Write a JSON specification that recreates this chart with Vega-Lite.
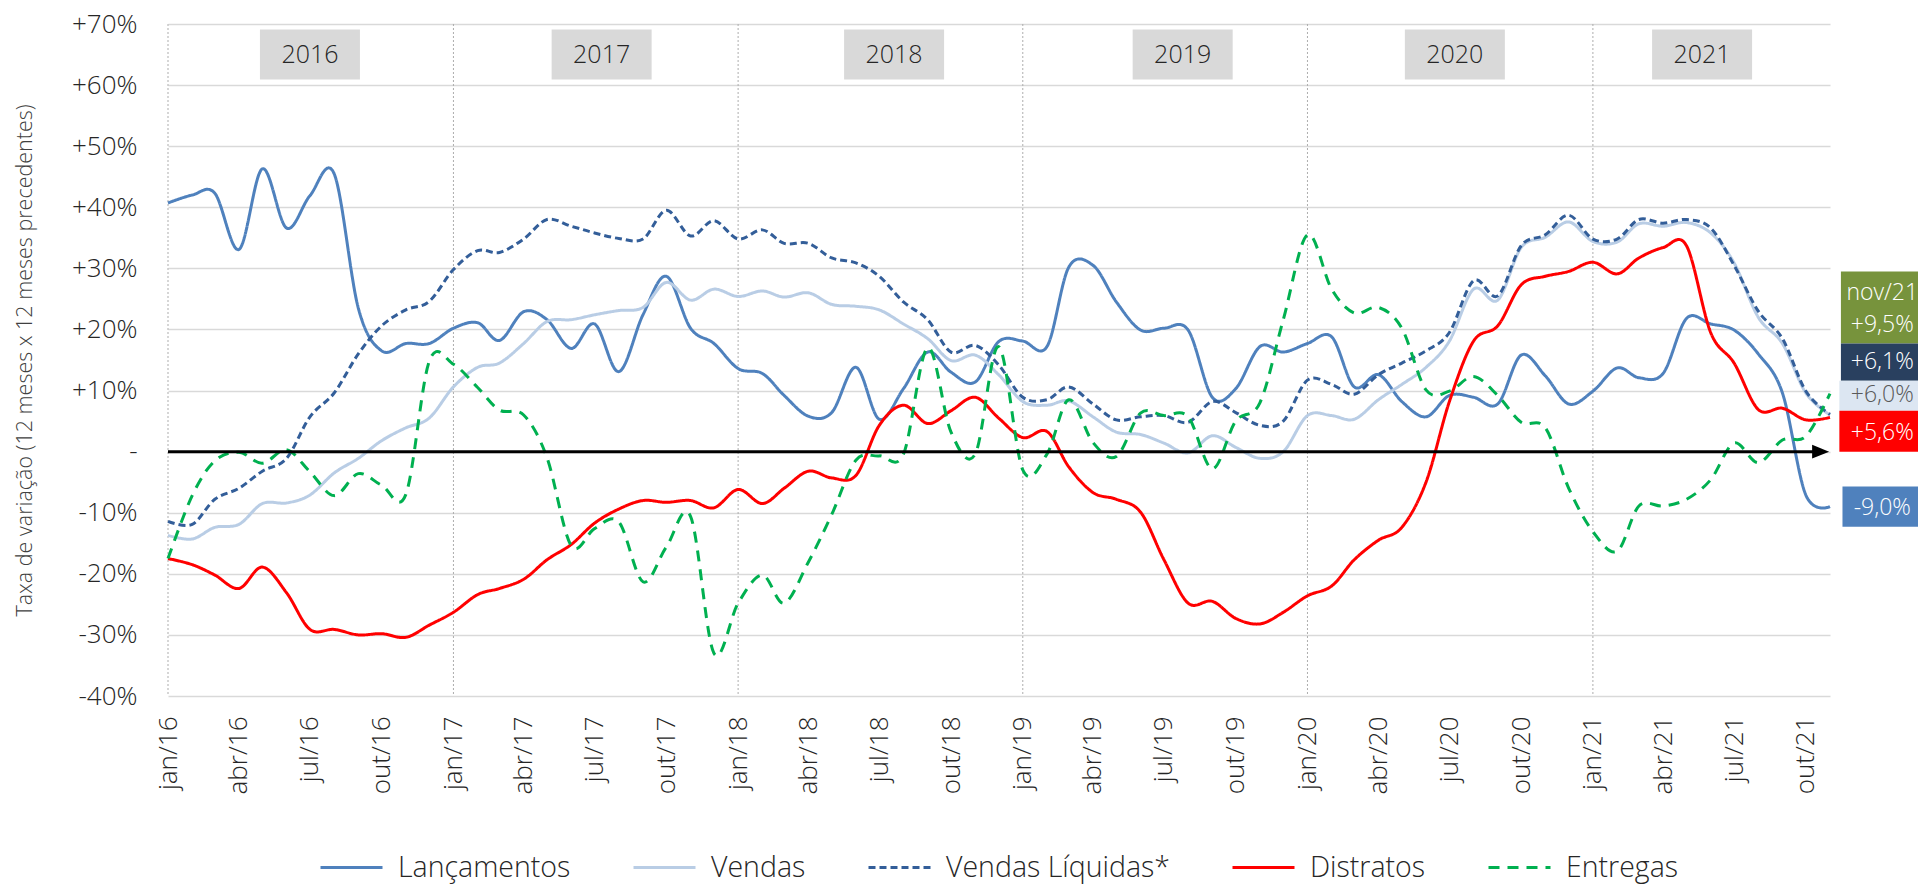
{
  "$schema": "https://vega.github.io/schema/vega-lite/v6.json",
  "width": 1662,
  "height": 672,
  "autosize": {"type": "none"},
  "padding": {"left": 168, "top": 24, "right": 88, "bottom": 188},
  "background": "white",
  "config": {
    "font": "Open Sans",
    "view": {"stroke": null},
    "legend": {"layout": {"bottom": {"anchor": "middle"}}}
  },
  "data": {"values": [{}]},
  "datasets": {
    "series": [
      {"mes": "2016-01-01", "Lançamentos": 40.7, "Vendas": -13.7, "Vendas Líquidas*": -11.4, "Distratos": -17.5, "Entregas": -17.5},
      {"mes": "2016-02-01", "Lançamentos": 42.0, "Vendas": -14.3, "Vendas Líquidas*": -11.9, "Distratos": -18.5, "Entregas": -7.2},
      {"mes": "2016-03-01", "Lançamentos": 42.3, "Vendas": -12.4, "Vendas Líquidas*": -7.8, "Distratos": -20.2, "Entregas": -1.5},
      {"mes": "2016-04-01", "Lançamentos": 33.1, "Vendas": -11.9, "Vendas Líquidas*": -6.0, "Distratos": -22.4, "Entregas": -0.1},
      {"mes": "2016-05-01", "Lançamentos": 46.3, "Vendas": -8.5, "Vendas Líquidas*": -3.2, "Distratos": -18.9, "Entregas": -1.9},
      {"mes": "2016-06-01", "Lançamentos": 36.6, "Vendas": -8.4, "Vendas Líquidas*": -1.1, "Distratos": -23.1, "Entregas": 0.3},
      {"mes": "2016-07-01", "Lançamentos": 41.9, "Vendas": -7.1, "Vendas Líquidas*": 5.7, "Distratos": -29.1, "Entregas": -3.3},
      {"mes": "2016-08-01", "Lançamentos": 45.5, "Vendas": -3.5, "Vendas Líquidas*": 9.6, "Distratos": -29.1, "Entregas": -7.2},
      {"mes": "2016-09-01", "Lançamentos": 23.5, "Vendas": -1.1, "Vendas Líquidas*": 16.0, "Distratos": -30.0, "Entregas": -3.6},
      {"mes": "2016-10-01", "Lançamentos": 16.5, "Vendas": 1.8, "Vendas Líquidas*": 20.6, "Distratos": -29.8, "Entregas": -5.5},
      {"mes": "2016-11-01", "Lançamentos": 17.7, "Vendas": 3.9, "Vendas Líquidas*": 23.2, "Distratos": -30.4, "Entregas": -7.0},
      {"mes": "2016-12-01", "Lançamentos": 17.7, "Vendas": 5.5, "Vendas Líquidas*": 24.6, "Distratos": -28.4, "Entregas": 14.8},
      {"mes": "2017-01-01", "Lançamentos": 20.2, "Vendas": 10.6, "Vendas Líquidas*": 29.8, "Distratos": -26.3, "Entregas": 14.3},
      {"mes": "2017-02-01", "Lançamentos": 21.1, "Vendas": 13.8, "Vendas Líquidas*": 32.9, "Distratos": -23.4, "Entregas": 10.5},
      {"mes": "2017-03-01", "Lançamentos": 18.2, "Vendas": 14.5, "Vendas Líquidas*": 32.6, "Distratos": -22.4, "Entregas": 6.8},
      {"mes": "2017-04-01", "Lançamentos": 22.9, "Vendas": 17.7, "Vendas Líquidas*": 34.8, "Distratos": -20.9, "Entregas": 6.0},
      {"mes": "2017-05-01", "Lançamentos": 21.6, "Vendas": 21.3, "Vendas Líquidas*": 38.0, "Distratos": -17.7, "Entregas": -1.0},
      {"mes": "2017-06-01", "Lançamentos": 16.9, "Vendas": 21.6, "Vendas Líquidas*": 36.9, "Distratos": -15.2, "Entregas": -15.4},
      {"mes": "2017-07-01", "Lançamentos": 20.9, "Vendas": 22.4, "Vendas Líquidas*": 35.8, "Distratos": -11.7, "Entregas": -12.6},
      {"mes": "2017-08-01", "Lançamentos": 13.1, "Vendas": 23.1, "Vendas Líquidas*": 34.9, "Distratos": -9.4, "Entregas": -11.5},
      {"mes": "2017-09-01", "Lançamentos": 22.4, "Vendas": 23.6, "Vendas Líquidas*": 34.8, "Distratos": -8.0, "Entregas": -21.3},
      {"mes": "2017-10-01", "Lançamentos": 28.7, "Vendas": 27.7, "Vendas Líquidas*": 39.5, "Distratos": -8.3, "Entregas": -15.6},
      {"mes": "2017-11-01", "Lançamentos": 20.2, "Vendas": 24.8, "Vendas Líquidas*": 35.3, "Distratos": -8.0, "Entregas": -10.6},
      {"mes": "2017-12-01", "Lançamentos": 17.7, "Vendas": 26.6, "Vendas Líquidas*": 37.8, "Distratos": -9.2, "Entregas": -33.0},
      {"mes": "2018-01-01", "Lançamentos": 13.6, "Vendas": 25.4, "Vendas Líquidas*": 34.8, "Distratos": -6.2, "Entregas": -24.8},
      {"mes": "2018-02-01", "Lançamentos": 12.8, "Vendas": 26.3, "Vendas Líquidas*": 36.3, "Distratos": -8.5, "Entregas": -20.2},
      {"mes": "2018-03-01", "Lançamentos": 9.2, "Vendas": 25.3, "Vendas Líquidas*": 34.1, "Distratos": -6.0, "Entregas": -24.8},
      {"mes": "2018-04-01", "Lançamentos": 5.8, "Vendas": 26.0, "Vendas Líquidas*": 34.1, "Distratos": -3.2, "Entregas": -18.1},
      {"mes": "2018-05-01", "Lançamentos": 6.4, "Vendas": 24.1, "Vendas Líquidas*": 31.7, "Distratos": -4.3, "Entregas": -10.3},
      {"mes": "2018-06-01", "Lançamentos": 13.8, "Vendas": 23.8, "Vendas Líquidas*": 30.9, "Distratos": -3.9, "Entregas": -1.4},
      {"mes": "2018-07-01", "Lançamentos": 5.3, "Vendas": 23.2, "Vendas Líquidas*": 28.7, "Distratos": 4.3, "Entregas": -0.7},
      {"mes": "2018-08-01", "Lançamentos": 10.3, "Vendas": 20.9, "Vendas Líquidas*": 24.5, "Distratos": 7.6, "Entregas": -0.4},
      {"mes": "2018-09-01", "Lançamentos": 16.3, "Vendas": 18.5, "Vendas Líquidas*": 21.6, "Distratos": 4.6, "Entregas": 17.0},
      {"mes": "2018-10-01", "Lançamentos": 13.0, "Vendas": 14.9, "Vendas Líquidas*": 16.3, "Distratos": 6.7, "Entregas": 3.2},
      {"mes": "2018-11-01", "Lançamentos": 11.4, "Vendas": 15.8, "Vendas Líquidas*": 17.4, "Distratos": 8.9, "Entregas": -0.4},
      {"mes": "2018-12-01", "Lançamentos": 18.0, "Vendas": 12.6, "Vendas Líquidas*": 14.2, "Distratos": 5.5, "Entregas": 17.2},
      {"mes": "2019-01-01", "Lançamentos": 18.1, "Vendas": 8.2, "Vendas Líquidas*": 8.9, "Distratos": 2.3, "Entregas": -3.0},
      {"mes": "2019-02-01", "Lançamentos": 17.2, "Vendas": 7.6, "Vendas Líquidas*": 8.5, "Distratos": 3.3, "Entregas": -0.4},
      {"mes": "2019-03-01", "Lançamentos": 30.2, "Vendas": 8.3, "Vendas Líquidas*": 10.6, "Distratos": -2.5, "Entregas": 8.5},
      {"mes": "2019-04-01", "Lançamentos": 30.5, "Vendas": 5.7, "Vendas Líquidas*": 7.8, "Distratos": -6.7, "Entregas": 1.5},
      {"mes": "2019-05-01", "Lançamentos": 24.5, "Vendas": 3.2, "Vendas Líquidas*": 5.2, "Distratos": -7.8, "Entregas": -0.8},
      {"mes": "2019-06-01", "Lançamentos": 19.9, "Vendas": 2.8, "Vendas Líquidas*": 5.7, "Distratos": -9.9, "Entregas": 6.3},
      {"mes": "2019-07-01", "Lançamentos": 20.2, "Vendas": 1.4, "Vendas Líquidas*": 5.9, "Distratos": -17.7, "Entregas": 5.9},
      {"mes": "2019-08-01", "Lançamentos": 19.9, "Vendas": -0.2, "Vendas Líquidas*": 4.8, "Distratos": -24.8, "Entregas": 5.7},
      {"mes": "2019-09-01", "Lançamentos": 8.9, "Vendas": 2.6, "Vendas Líquidas*": 8.2, "Distratos": -24.5, "Entregas": -2.8},
      {"mes": "2019-10-01", "Lançamentos": 10.3, "Vendas": 0.7, "Vendas Líquidas*": 6.4, "Distratos": -27.3, "Entregas": 5.0},
      {"mes": "2019-11-01", "Lançamentos": 17.2, "Vendas": -1.1, "Vendas Líquidas*": 4.3, "Distratos": -28.2, "Entregas": 8.0},
      {"mes": "2019-12-01", "Lançamentos": 16.3, "Vendas": 0.0, "Vendas Líquidas*": 5.0, "Distratos": -26.3, "Entregas": 21.6},
      {"mes": "2020-01-01", "Lançamentos": 17.7, "Vendas": 5.9, "Vendas Líquidas*": 11.7, "Distratos": -23.6, "Entregas": 35.5},
      {"mes": "2020-02-01", "Lançamentos": 18.8, "Vendas": 5.9, "Vendas Líquidas*": 11.0, "Distratos": -22.0, "Entregas": 26.6},
      {"mes": "2020-03-01", "Lançamentos": 10.6, "Vendas": 5.3, "Vendas Líquidas*": 9.4, "Distratos": -17.7, "Entregas": 22.7},
      {"mes": "2020-04-01", "Lançamentos": 12.6, "Vendas": 8.5, "Vendas Líquidas*": 12.6, "Distratos": -14.5, "Entregas": 23.6},
      {"mes": "2020-05-01", "Lançamentos": 8.2, "Vendas": 11.0, "Vendas Líquidas*": 14.5, "Distratos": -12.4, "Entregas": 20.2},
      {"mes": "2020-06-01", "Lançamentos": 5.7, "Vendas": 13.8, "Vendas Líquidas*": 16.5, "Distratos": -5.0, "Entregas": 10.1},
      {"mes": "2020-07-01", "Lançamentos": 9.2, "Vendas": 18.1, "Vendas Líquidas*": 19.5, "Distratos": 8.2, "Entregas": 9.9},
      {"mes": "2020-08-01", "Lançamentos": 8.9, "Vendas": 26.6, "Vendas Líquidas*": 28.0, "Distratos": 18.1, "Entregas": 12.3},
      {"mes": "2020-09-01", "Lançamentos": 7.8, "Vendas": 24.8, "Vendas Líquidas*": 25.5, "Distratos": 20.6, "Entregas": 9.2},
      {"mes": "2020-10-01", "Lançamentos": 15.8, "Vendas": 33.4, "Vendas Líquidas*": 33.7, "Distratos": 27.3, "Entregas": 4.8},
      {"mes": "2020-11-01", "Lançamentos": 12.4, "Vendas": 35.1, "Vendas Líquidas*": 35.5, "Distratos": 28.7, "Entregas": 3.9},
      {"mes": "2020-12-01", "Lançamentos": 7.8, "Vendas": 37.6, "Vendas Líquidas*": 38.7, "Distratos": 29.5, "Entregas": -6.0},
      {"mes": "2021-01-01", "Lançamentos": 9.9, "Vendas": 34.4, "Vendas Líquidas*": 34.8, "Distratos": 31.0, "Entregas": -13.1},
      {"mes": "2021-02-01", "Lançamentos": 13.7, "Vendas": 34.3, "Vendas Líquidas*": 34.8, "Distratos": 29.1, "Entregas": -16.3},
      {"mes": "2021-03-01", "Lançamentos": 12.1, "Vendas": 37.3, "Vendas Líquidas*": 38.0, "Distratos": 31.7, "Entregas": -8.9},
      {"mes": "2021-04-01", "Lançamentos": 12.8, "Vendas": 36.9, "Vendas Líquidas*": 37.4, "Distratos": 33.4, "Entregas": -8.9},
      {"mes": "2021-05-01", "Lançamentos": 21.8, "Vendas": 37.5, "Vendas Líquidas*": 38.0, "Distratos": 33.7, "Entregas": -7.8},
      {"mes": "2021-06-01", "Lançamentos": 20.9, "Vendas": 35.8, "Vendas Líquidas*": 36.6, "Distratos": 19.5, "Entregas": -4.6},
      {"mes": "2021-07-01", "Lançamentos": 19.9, "Vendas": 30.9, "Vendas Líquidas*": 30.5, "Distratos": 14.5, "Entregas": 1.4},
      {"mes": "2021-08-01", "Lançamentos": 16.0, "Vendas": 22.0, "Vendas Líquidas*": 23.0, "Distratos": 6.9, "Entregas": -1.8},
      {"mes": "2021-09-01", "Lançamentos": 9.6, "Vendas": 17.7, "Vendas Líquidas*": 18.5, "Distratos": 7.1, "Entregas": 1.9},
      {"mes": "2021-10-01", "Lançamentos": -7.1, "Vendas": 9.6, "Vendas Líquidas*": 9.9, "Distratos": 5.2, "Entregas": 2.5},
      {"mes": "2021-11-01", "Lançamentos": -9.0, "Vendas": 6.0, "Vendas Líquidas*": 6.1, "Distratos": 5.6, "Entregas": 9.5}
    ],
    "anos": [
      {"ano": "2016", "inicio": "2016-01-01", "centro": "2016-07-01"},
      {"ano": "2017", "inicio": "2017-01-01", "centro": "2017-07-10"},
      {"ano": "2018", "inicio": "2018-01-01", "centro": "2018-07-20"},
      {"ano": "2019", "inicio": "2019-01-01", "centro": "2019-07-25"},
      {"ano": "2020", "inicio": "2020-01-01", "centro": "2020-07-08"},
      {"ano": "2021", "inicio": "2021-01-01", "centro": "2021-05-21"}
    ],
    "finais": [
      {"serie": "mes", "rotulo": "nov/21"},
      {"serie": "Entregas", "rotulo": "+9,5%"},
      {"serie": "Vendas Líquidas*", "rotulo": "+6,1%"},
      {"serie": "Vendas", "rotulo": "+6,0%"},
      {"serie": "Distratos", "rotulo": "+5,6%"},
      {"serie": "Lançamentos", "rotulo": "-9,0%"}
    ]
  },
  "layer": [
    {
      "data": {"name": "anos"},
      "mark": {"type": "rule", "color": "#ADADAD", "strokeWidth": 1, "strokeDash": [2, 2]},
      "encoding": {"x": {"field": "inicio", "type": "temporal"}}
    },
    {
      "data": {"name": "series"},
      "transform": [{"fold": ["Lançamentos", "Vendas", "Vendas Líquidas*", "Distratos", "Entregas"], "as": ["serie", "valor"]}],
      "mark": {"type": "line", "interpolate": "cardinal", "strokeWidth": 3},
      "encoding": {
        "x": {
          "field": "mes", "type": "temporal",
          "scale": {"type": "utc", "domain": [{"year": 2016, "month": 1, "date": 1, "utc": true}, {"year": 2021, "month": 11, "date": 1, "utc": true}], "nice": false},
          "axis": {
            "title": null, "grid": false, "domain": false, "ticks": false, "tickSize": 0,
            "tickCount": {"interval": "month", "step": 3},
            "labelExpr": "['jan','fev','mar','abr','mai','jun','jul','ago','set','out','nov','dez'][utcmonth(datum.value)] + '/' + utcFormat(datum.value, '%y')",
            "labelAngle": 270, "labelAlign": "right", "labelBaseline": "middle",
            "labelFont": "Open Sans", "labelFontWeight": 300, "labelFontSize": 26, "labelColor": "#262626",
            "labelPadding": 20, "labelOverlap": false, "labelFlush": false, "labelBound": false
          }
        },
        "y": {
          "field": "valor", "type": "quantitative",
          "scale": {"domain": [-40, 70], "nice": false, "zero": false},
          "axis": {
            "title": "Taxa de variação (12 meses x 12 meses precedentes)",
            "titleFont": "Open Sans", "titleFontWeight": 300, "titleFontSize": 21.5, "titleColor": "#404040", "titlePadding": 35,
            "values": [-40, -30, -20, -10, 0, 10, 20, 30, 40, 50, 60, 70],
            "labelExpr": "datum.value > 0 ? '+' + datum.value + '%' : (datum.value == 0 ? '-' : datum.value + '%')",
            "labelFont": "Open Sans", "labelFontWeight": 300, "labelFontSize": 26, "labelColor": "#262626", "labelPadding": 31,
            "domain": false, "ticks": false, "tickSize": 0,
            "grid": true, "gridColor": "#D9D9D9", "gridWidth": 1.5
          }
        },
        "color": {
          "field": "serie", "type": "nominal",
          "scale": {"domain": ["Lançamentos", "Vendas", "Vendas Líquidas*", "Distratos", "Entregas"], "range": ["#4F81BD", "#B9CDE5", "#335E99", "#FF0000", "#00B050"]},
          "legend": {
            "title": null, "orient": "bottom", "direction": "horizontal",
            "symbolType": "stroke", "symbolSize": 3844, "symbolStrokeWidth": 3,
            "labelFont": "Open Sans", "labelFontWeight": 300, "labelFontSize": 28.5, "labelColor": "#262626", "labelLimit": 0,
            "labelOffset": 14, "columnPadding": 56, "offset": 41
          }
        },
        "strokeDash": {
          "field": "serie", "type": "nominal",
          "scale": {"domain": ["Lançamentos", "Vendas", "Vendas Líquidas*", "Distratos", "Entregas"], "range": [[1, 0], [1, 0], [7, 4], [1, 0], [11, 8]]}
        }
      }
    },
    {
      "mark": {"type": "rule", "color": "#000000", "strokeWidth": 3},
      "encoding": {
        "x": {"datum": {"year": 2016, "month": 1, "date": 1, "utc": true}},
        "x2": {"datum": {"year": 2021, "month": 10, "date": 19, "utc": true}},
        "y": {"datum": 0}
      }
    },
    {
      "mark": {"type": "point", "shape": "M-1,-0.8L1,0L-1,0.8Z", "filled": true, "color": "#000000", "opacity": 1, "size": 289, "strokeWidth": 0},
      "encoding": {
        "x": {"datum": {"year": 2021, "month": 10, "date": 20, "utc": true}},
        "y": {"datum": 0}
      }
    },
    {
      "data": {"name": "anos"},
      "mark": {"type": "point", "shape": "M-1,-0.5L1,-0.5L1,0.5L-1,0.5Z", "filled": true, "color": "#D9D9D9", "opacity": 1, "size": 10000, "strokeWidth": 0},
      "encoding": {"x": {"field": "centro", "type": "temporal"}, "y": {"datum": 65}}
    },
    {
      "data": {"name": "anos"},
      "mark": {"type": "text", "font": "Open Sans", "fontWeight": 300, "fontSize": 25, "color": "#262626", "baseline": "middle", "align": "center"},
      "encoding": {"x": {"field": "centro", "type": "temporal"}, "y": {"datum": 65}, "text": {"field": "ano"}}
    },
    {
      "mark": {"type": "rect", "color": "#77933C"},
      "encoding": {
        "x": {"datum": {"year": 2021, "month": 11, "date": 15, "utc": true}}, "x2": {"datum": {"year": 2022, "month": 3, "date": 1, "utc": true}},
        "y": {"datum": 29.5}, "y2": {"datum": 17.7}
      }
    },
    {
      "mark": {"type": "rect", "color": "#29405F"},
      "encoding": {
        "x": {"datum": {"year": 2021, "month": 11, "date": 15, "utc": true}}, "x2": {"datum": {"year": 2022, "month": 3, "date": 1, "utc": true}},
        "y": {"datum": 17.7}, "y2": {"datum": 11.6}
      }
    },
    {
      "mark": {"type": "rect", "color": "#DCE6F2"},
      "encoding": {
        "x": {"datum": {"year": 2021, "month": 11, "date": 13, "utc": true}}, "x2": {"datum": {"year": 2022, "month": 3, "date": 1, "utc": true}},
        "y": {"datum": 11.6}, "y2": {"datum": 6.7}
      }
    },
    {
      "mark": {"type": "rect", "color": "#FF0000"},
      "encoding": {
        "x": {"datum": {"year": 2021, "month": 11, "date": 13, "utc": true}}, "x2": {"datum": {"year": 2022, "month": 3, "date": 1, "utc": true}},
        "y": {"datum": 6.7}, "y2": {"datum": 0}
      }
    },
    {
      "mark": {"type": "rect", "color": "#4F81BD"},
      "encoding": {
        "x": {"datum": {"year": 2021, "month": 11, "date": 17, "utc": true}}, "x2": {"datum": {"year": 2022, "month": 3, "date": 1, "utc": true}},
        "y": {"datum": -5.7}, "y2": {"datum": -12.3}
      }
    },
    {
      "data": {"name": "finais"},
      "transform": [{"filter": "datum.serie == 'mes'"}],
      "mark": {"type": "text", "font": "Open Sans", "fontWeight": 300, "fontSize": 23, "color": "#FFFFFF", "baseline": "middle", "align": "center"},
      "encoding": {"x": {"datum": {"year": 2022, "month": 1, "date": 7, "utc": true}}, "y": {"datum": 25.9}, "text": {"field": "rotulo"}}
    },
    {
      "data": {"name": "finais"},
      "transform": [{"filter": "datum.serie == 'Entregas'"}],
      "mark": {"type": "text", "font": "Open Sans", "fontWeight": 300, "fontSize": 23, "color": "#FFFFFF", "baseline": "middle", "align": "center"},
      "encoding": {"x": {"datum": {"year": 2022, "month": 1, "date": 7, "utc": true}}, "y": {"datum": 20.7}, "text": {"field": "rotulo"}}
    },
    {
      "data": {"name": "finais"},
      "transform": [{"filter": "datum.serie == 'Vendas Líquidas*'"}],
      "mark": {"type": "text", "font": "Open Sans", "fontWeight": 300, "fontSize": 23, "color": "#FFFFFF", "baseline": "middle", "align": "center"},
      "encoding": {"x": {"datum": {"year": 2022, "month": 1, "date": 7, "utc": true}}, "y": {"datum": 14.6}, "text": {"field": "rotulo"}}
    },
    {
      "data": {"name": "finais"},
      "transform": [{"filter": "datum.serie == 'Vendas'"}],
      "mark": {"type": "text", "font": "Open Sans", "fontWeight": 300, "fontSize": 23, "color": "#595959", "baseline": "middle", "align": "center"},
      "encoding": {"x": {"datum": {"year": 2022, "month": 1, "date": 7, "utc": true}}, "y": {"datum": 9.2}, "text": {"field": "rotulo"}}
    },
    {
      "data": {"name": "finais"},
      "transform": [{"filter": "datum.serie == 'Distratos'"}],
      "mark": {"type": "text", "font": "Open Sans", "fontWeight": 300, "fontSize": 23, "color": "#FFFFFF", "baseline": "middle", "align": "center"},
      "encoding": {"x": {"datum": {"year": 2022, "month": 1, "date": 7, "utc": true}}, "y": {"datum": 3.1}, "text": {"field": "rotulo"}}
    },
    {
      "data": {"name": "finais"},
      "transform": [{"filter": "datum.serie == 'Lançamentos'"}],
      "mark": {"type": "text", "font": "Open Sans", "fontWeight": 300, "fontSize": 23, "color": "#FFFFFF", "baseline": "middle", "align": "center"},
      "encoding": {"x": {"datum": {"year": 2022, "month": 1, "date": 7, "utc": true}}, "y": {"datum": -9.2}, "text": {"field": "rotulo"}}
    }
  ]
}
